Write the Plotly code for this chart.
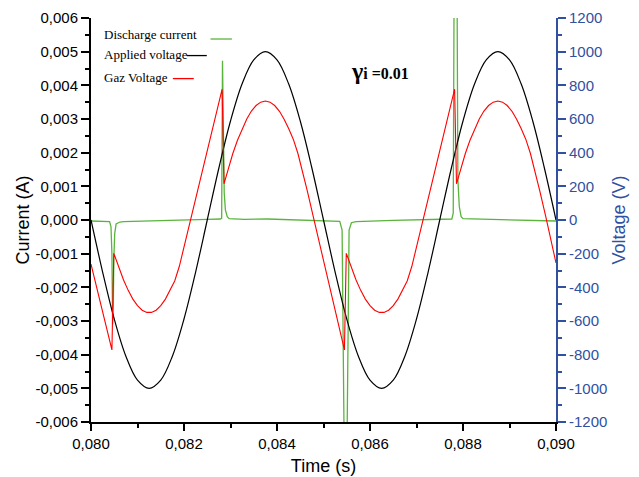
import plotly.graph_objects as go

# ---------------- data ----------------
# Applied voltage (V)
t_applied = [0.08000, 0.08025, 0.08050, 0.08075, 0.08100, 0.08125, 0.08150, 0.08175, 0.08200, 0.08225,
             0.08250, 0.08275, 0.08300, 0.08325, 0.08350, 0.08375, 0.08400, 0.08425, 0.08450, 0.08475,
             0.08500, 0.08525, 0.08550, 0.08575, 0.08600, 0.08625, 0.08650, 0.08675, 0.08700, 0.08725,
             0.08750, 0.08775, 0.08800, 0.08825, 0.08850, 0.08875, 0.08900, 0.08925, 0.08950, 0.08975,
             0.09000]
v_applied = [0, -309, -588, -809, -951, -1000, -951, -809, -588, -309,
             0, 309, 588, 809, 951, 1000, 951, 809, 588, 309,
             0, -309, -588, -809, -951, -1000, -951, -809, -588, -309,
             0, 309, 588, 809, 951, 1000, 951, 809, 588, 309,
             0]

# Gas voltage (V)
t_gas = [0.08000, 0.08045, 0.08049, 0.08060, 0.08070, 0.08080, 0.08090, 0.08100, 0.08110, 0.08120,
         0.08130, 0.08140, 0.08150, 0.08160, 0.08170, 0.08180, 0.08190, 0.08200, 0.08214, 0.08282,
         0.08286, 0.08295, 0.08305, 0.08315, 0.08325, 0.08335, 0.08345, 0.08355, 0.08365, 0.08375,
         0.08385, 0.08395, 0.08405, 0.08415, 0.08425, 0.08435, 0.08445, 0.08455, 0.08465, 0.08478,
         0.08545, 0.08549, 0.08560, 0.08570, 0.08580, 0.08590, 0.08600, 0.08610, 0.08620, 0.08630,
         0.08640, 0.08650, 0.08660, 0.08670, 0.08680, 0.08690, 0.08700, 0.08714, 0.08782, 0.08786,
         0.08795, 0.08805, 0.08815, 0.08825, 0.08835, 0.08845, 0.08855, 0.08865, 0.08875, 0.08885,
         0.08895, 0.08905, 0.08915, 0.08925, 0.08935, 0.08945, 0.08955, 0.08965, 0.08978, 0.09000]
v_gas = [-262, -772, -198, -283, -356, -418, -470, -509, -536, -549,
         -549, -536, -509, -470, -420, -362, -275, -160, 0, 777,
         215, 308, 395, 474, 543, 600, 647, 680, 700, 707,
         700, 680, 647, 600, 543, 480, 395, 290, 175, 20,
         -772, -198, -283, -356, -418, -470, -509, -536, -549, -549,
         -536, -509, -470, -420, -362, -275, -160, 0, 777, 215,
         308, 395, 474, 543, 600, 647, 680, 700, 707, 700,
         680, 647, 600, 543, 480, 395, 290, 175, 20, -255]

# Discharge current (A)
t_current = [0.08000, 0.08035, 0.08040, 0.08043, 0.08045, 0.080465, 0.08048, 0.08049, 0.08051, 0.08054,
             0.08062, 0.08070, 0.08150, 0.08250, 0.08278, 0.08281, 0.082828, 0.082848, 0.082865, 0.08289,
             0.08293, 0.08297, 0.08330, 0.08380, 0.08450, 0.08535, 0.08540, 0.08543, 0.08545, 0.08550,
             0.08553, 0.08555, 0.08560, 0.08570, 0.08650, 0.08750, 0.08776, 0.08779, 0.08781, 0.08787,
             0.08789, 0.08792, 0.08796, 0.08800, 0.08880, 0.09000]
i_current = [-0.00003, -0.00003, -0.00005, -0.0002, -0.0010, -0.0031, -0.0025, -0.0012, -0.0004, -0.00012,
             -0.00006, -0.00005, -0.00001, 0.00002, 0.00003, 0.00005, 0.00473, 0.0025, 0.0008, 0.0003,
             0.0001, 0.00004, 0.00002, 0.00003, -0.00001, -0.00004, -0.0003, -0.003, -0.0075, -0.0075,
             -0.0012, -0.0003, -0.00008, -0.00005, -0.00001, 0.00002, 0.00003, 0.0002, 0.0075, 0.0075,
             0.0012, 0.0004, 0.0001, 0.00004, 0.00002, -0.00003]

# tick labels
x_ticks = [0.080, 0.082, 0.084, 0.086, 0.088, 0.090]
x_labels = ["0,080", "0,082", "0,084", "0,086", "0,088", "0,090"]
i_ticks = [-0.006, -0.005, -0.004, -0.003, -0.002, -0.001, 0.0, 0.001, 0.002, 0.003, 0.004, 0.005, 0.006]
i_labels = ["-0,006", "-0,005", "-0,004", "-0,003", "-0,002", "-0,001", "0,000",
            "0,001", "0,002", "0,003", "0,004", "0,005", "0,006"]
v_ticks = [-1200, -1000, -800, -600, -400, -200, 0, 200, 400, 600, 800, 1000, 1200]
v_labels = ["-1200", "-1000", "-800", "-600", "-400", "-200", "0",
            "200", "400", "600", "800", "1000", "1200"]

# ---------------- figure ----------------
GREEN = "rgb(90,180,60)"
BLUE = "rgb(48,80,160)"

fig = go.Figure()
fig.add_trace(go.Scatter(x=t_current, y=i_current, mode="lines", line=dict(color=GREEN, width=1.3),
                         xaxis="x", yaxis="y", name="Discharge current"))
fig.add_trace(go.Scatter(x=t_applied, y=v_applied, mode="lines", line=dict(color="black", width=1.2, shape="spline", smoothing=1.0),
                         xaxis="x", yaxis="y2", name="Applied voltage"))
fig.add_trace(go.Scatter(x=t_gas, y=v_gas, mode="lines", line=dict(color="red", width=1.1),
                         xaxis="x", yaxis="y2", name="Gaz Voltage"))

axis_font = dict(family="Liberation Sans, Arial", size=15, color="black")

fig.update_layout(
    width=639, height=477,
    margin=dict(l=91, r=83, t=18, b=55),
    paper_bgcolor="white", plot_bgcolor="white",
    showlegend=False,
    font=dict(family="Liberation Sans, Arial", size=15, color="black"),
    xaxis=dict(range=[0.080, 0.090], tickvals=x_ticks, ticktext=x_labels, automargin=False,
               ticks="outside", ticklen=7, tickwidth=1.5, tickcolor="black",
               minor=dict(dtick=0.001, tick0=0.080, ticks="outside", ticklen=4, tickwidth=1.5, tickcolor="black", showgrid=False),
               showline=True, linecolor="black", linewidth=2, showgrid=False, zeroline=False,
               tickfont=axis_font,
               title=dict(text="Time (s)", font=dict(family="Liberation Sans, Arial", size=18), standoff=8)),
    xaxis2=dict(range=[0.080, 0.090], overlaying="x", side="top", anchor="y", automargin=False,
                tickvals=x_ticks, ticks="inside", ticklen=7, tickwidth=1.5, tickcolor="black",
                minor=dict(dtick=0.001, tick0=0.080, ticks="inside", ticklen=4, tickwidth=1.5, tickcolor="black", showgrid=False),
                showticklabels=False, showline=True, linecolor="black", linewidth=2,
                showgrid=False, zeroline=False),
    yaxis=dict(range=[-0.006, 0.006], tickvals=i_ticks, ticktext=i_labels, automargin=False,
               ticks="outside", ticklen=8, tickwidth=1.5, tickcolor="black",
               minor=dict(dtick=0.0005, tick0=0, ticks="outside", ticklen=4, tickwidth=1.5, tickcolor="black", showgrid=False),
               showline=True, linecolor="black", linewidth=2, showgrid=False, zeroline=False,
               tickfont=axis_font,
               title=dict(text="Current (A)", font=dict(family="Liberation Sans, Arial", size=18), standoff=1)),
    yaxis2=dict(range=[-1200, 1200], overlaying="y", side="right", anchor="x", automargin=False,
                tickvals=v_ticks, ticktext=v_labels,
                ticks="outside", ticklen=8, tickwidth=1.5, tickcolor=BLUE,
                minor=dict(dtick=100, tick0=0, ticks="outside", ticklen=4, tickwidth=1.5, tickcolor=BLUE, showgrid=False),
                showline=True, linecolor=BLUE, linewidth=2, showgrid=False, zeroline=False,
                tickfont=dict(family="Liberation Sans, Arial", size=15, color=BLUE),
                title=dict(text="Voltage (V)", font=dict(family="Liberation Sans, Arial", size=18, color=BLUE), standoff=6)),
)

# legend (text followed by line sample, as in the original)
serif = dict(family="Liberation Serif, Times New Roman", size=13, color="black")
legend_items = [("Discharge current", 0.960, 0.257, 0.303, 0.948, GREEN),
                ("Applied voltage", 0.910, 0.206, 0.249, 0.907, "black"),
                ("Gaz Voltage", 0.852, 0.176, 0.221, 0.850, "red")]
for label, ty, lx0, lx1, ly, col in legend_items:
    fig.add_annotation(text=label, xref="paper", yref="paper", x=0.0237, y=ty,
                       xanchor="left", yanchor="middle", showarrow=False, font=serif)
    fig.add_shape(type="line", xref="paper", yref="paper", x0=lx0, x1=lx1, y0=ly, y1=ly,
                  line=dict(color=col, width=1.3))

fig.add_annotation(text="<b><span style='font-size:24px'>γ</span>i =0.01</b>", xref="paper", yref="paper",
                   x=0.555, y=0.869, xanchor="left", yanchor="middle", showarrow=False,
                   font=dict(family="Liberation Serif, Times New Roman", size=16, color="black"))

fig.write_html("out.html")
